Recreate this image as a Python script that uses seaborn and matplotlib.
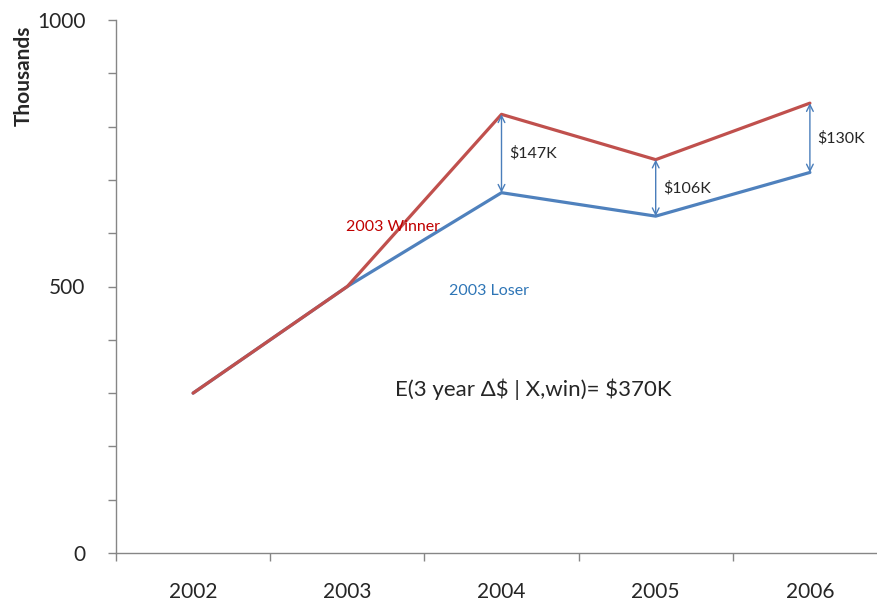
import numpy as np
import pandas as pd
import matplotlib
matplotlib.use("Agg")
import matplotlib.pyplot as plt
import seaborn as sns
from matplotlib.ticker import MultipleLocator, FixedLocator

years = ["2002", "2003", "2004", "2005", "2006"]
loser = [300, 500, 676, 632, 714]
winner = [300, 500, 823, 738, 844]
gap_labels = [r"\$147K", r"\$106K", r"\$130K"]
gap_years = ["2004", "2005", "2006"]

sns.set_style("white")
plt.rcParams["font.family"] = ["Lato", "DejaVu Sans"]

df = pd.DataFrame({
    "pos": list(range(len(years))) * 2,
    "value": loser + winner,
    "group": ["2003 Loser"] * len(years) + ["2003 Winner"] * len(years),
})

fig = plt.figure(figsize=(8.78, 6.02), dpi=100)
ax = fig.add_axes([116 / 878, 49 / 602, 771 / 878, 533 / 602])

sns.lineplot(data=df, x="pos", y="value", hue="group",
             hue_order=["2003 Loser", "2003 Winner"],
             palette={"2003 Loser": "#4F81BD", "2003 Winner": "#C0504D"},
             linewidth=2.3, sort=False, legend=False, ax=ax)

# arrows between loser and winner
for yr, lab in zip(gap_years, gap_labels):
    i = years.index(yr)
    lo, hi = loser[i], winner[i]
    ax.annotate("", xy=(i, hi), xytext=(i, lo),
                arrowprops=dict(arrowstyle="<->", color="#4A7EBB", lw=1.0,
                                shrinkA=0, shrinkB=0, mutation_scale=12))
    ax.text(i + 0.05, (lo + hi) / 2, lab, fontsize=11.5, va="center", ha="left")

ax.text(0.99, 612, "2003 Winner", color="#C00000", fontsize=11.5, va="center", ha="left")
ax.text(1.66, 491, "2003 Loser", color="#2E75B6", fontsize=11.5, va="center", ha="left")
ax.text(1.31, 308, r"E(3 year Δ\$ | X,win)= \$370K", fontsize=16, va="center", ha="left")

ax.set_xlim(-0.5, len(years) - 0.5)
ax.set_ylim(0, 1000)
ax.set_xticks(range(len(years)))
ax.set_xticklabels(years, fontsize=15)
ax.xaxis.set_minor_locator(FixedLocator(np.arange(-0.5, len(years), 1.0)))
ax.set_yticks([0, 500, 1000])
ax.set_yticklabels(["0", "500", "1000"], fontsize=15)
ax.yaxis.set_minor_locator(MultipleLocator(100))

ax.tick_params(axis="x", which="major", length=0, pad=21)
ax.tick_params(axis="x", which="minor", length=6, width=1, color="#868686", direction="out", bottom=True)
ax.tick_params(axis="y", which="both", length=6, width=1, color="#868686", direction="out", left=True, pad=16)

for s in ["top", "right"]:
    ax.spines[s].set_visible(False)
for s in ["left", "bottom"]:
    ax.spines[s].set_color("#868686")
    ax.spines[s].set_linewidth(1)

ax.set_xlabel("")
ax.set_ylabel("")
fig.text(24 / 878, 1 - 76 / 602, "Thousands", rotation=90, fontsize=15,
         fontweight="bold", ha="center", va="center")

fig.savefig("out.png", dpi=100)
